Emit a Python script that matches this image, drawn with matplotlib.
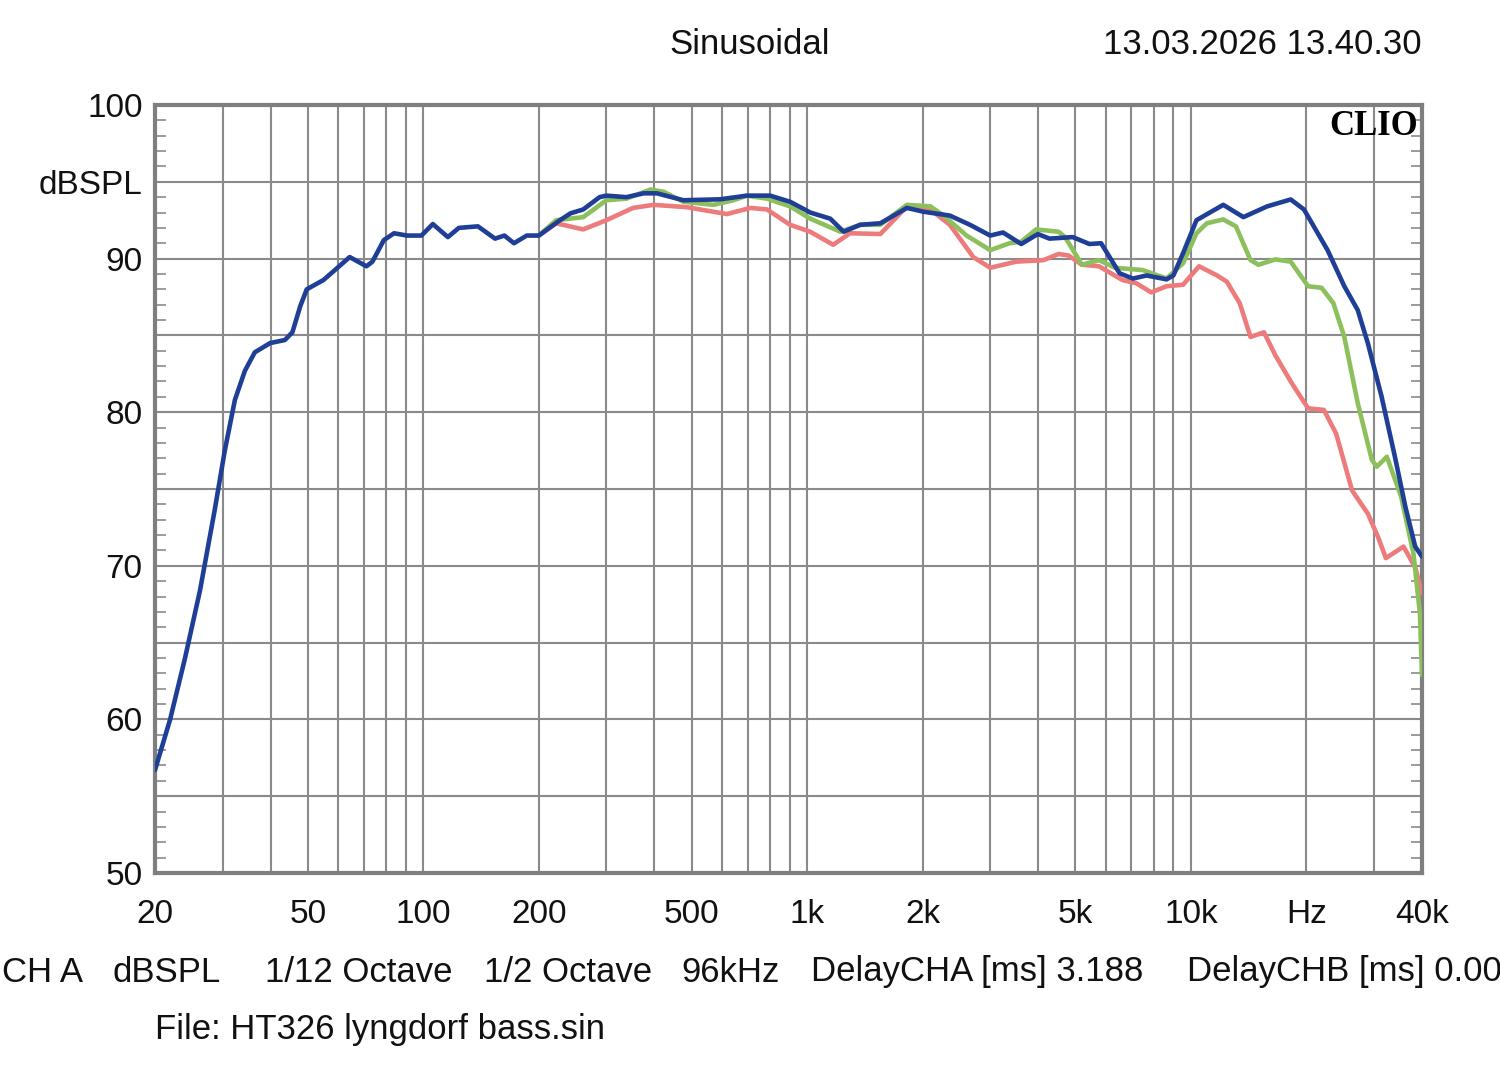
import numpy as np
import matplotlib
matplotlib.use("Agg")
import matplotlib.pyplot as plt
from matplotlib.ticker import FixedLocator, MultipleLocator

# ---------------- data ----------------
blue_f = [20, 21.9, 23.9, 26.2, 28.6, 30.4, 32.3, 34.3, 36.4, 39.9, 43.6, 45.6, 47.8, 49.7,
          54.9, 58.2, 64.3, 71.1, 73.7, 78.9, 83.9, 90.7, 98.9, 105.9, 115.9, 123.8, 138.8,
          153.8, 162.7, 172.3, 186, 200, 213, 227, 242, 261, 288, 300, 338, 375, 406, 476,
          594, 697, 801, 903, 1019, 1149, 1245, 1375, 1552, 1820, 2012, 2355, 2657, 3000,
          3239, 3614, 3992, 4281, 4920, 5440, 5834, 6520, 7060, 7660, 8640, 9000, 9540,
          10340, 12140, 13700, 15800, 18200, 19700, 22700, 25100, 27200, 28900, 31400,
          34000, 36200, 38400, 40000]
blue_db = [56.7, 60.0, 63.9, 68.4, 73.6, 77.5, 80.8, 82.7, 83.9, 84.5, 84.7, 85.2, 86.9, 88.0,
           88.6, 89.15, 90.1, 89.5, 89.8, 91.2, 91.65, 91.5, 91.5, 92.25, 91.4, 92.0, 92.1,
           91.3, 91.5, 91.0, 91.5, 91.5, 92.0, 92.5, 92.95, 93.2, 94.0, 94.1, 94.0, 94.25,
           94.25, 93.8, 93.86, 94.1, 94.1, 93.7, 93.0, 92.6, 91.75, 92.2, 92.3, 93.3, 93.05,
           92.8, 92.2, 91.5, 91.7, 90.95, 91.6, 91.3, 91.4, 90.95, 91.0, 89.04, 88.7, 88.9,
           88.65, 88.9, 90.35, 92.5, 93.5, 92.7, 93.4, 93.85, 93.2, 90.55, 88.2, 86.65,
           84.5, 81.0, 77.1, 73.85, 71.25, 70.6]

green_f = [200, 222, 261, 300, 338, 391, 423, 476, 570, 643, 697, 786, 903, 1019, 1221, 1375,
           1552, 1820, 2095, 2267, 2603, 3000, 3370, 3614, 3950, 4520, 4700, 5200, 5760,
           6350, 7500, 8640, 9540, 10340, 11000, 12140, 13100, 14300, 15000, 16600, 18200,
           20200, 21900, 23500, 25100, 27200, 29600, 30500, 32400, 35300, 38000, 39500, 40000]
green_db = [91.5, 92.5, 92.7, 93.8, 93.9, 94.5, 94.35, 93.7, 93.5, 93.8, 94.1, 93.9, 93.4,
            92.6, 91.75, 92.2, 92.2, 93.5, 93.4, 92.8, 91.5, 90.55, 91.0, 91.1, 91.9, 91.75,
            91.4, 89.6, 89.9, 89.4, 89.25, 88.7, 89.7, 91.65, 92.3, 92.55, 92.1, 89.9, 89.6,
            89.95, 89.8, 88.2, 88.1, 87.1, 84.9, 80.6, 76.9, 76.45, 77.1, 74.5, 70.8, 66.9, 62.9]

red_f = [200, 222, 261, 300, 352, 398, 485, 618, 712, 786, 903, 1019, 1169, 1294, 1552, 1820,
         2095, 2355, 2710, 3000, 3500, 4130, 4520, 4800, 5200, 5760, 6640, 7200, 7880, 8640,
         9540, 10500, 11700, 12400, 13400, 14300, 15500, 16600, 18300, 20200, 22200, 23900,
         26300, 28900, 30700, 32200, 35800, 38400, 40000]
red_db = [91.5, 92.3, 91.9, 92.5, 93.3, 93.5, 93.35, 92.9, 93.3, 93.2, 92.2, 91.75, 90.9,
          91.65, 91.6, 93.4, 93.2, 92.2, 90.1, 89.4, 89.8, 89.9, 90.3, 90.2, 89.6, 89.5,
          88.6, 88.4, 87.8, 88.2, 88.3, 89.5, 88.9, 88.5, 87.1, 84.9, 85.2, 83.7, 81.9,
          80.25, 80.15, 78.6, 74.9, 73.4, 71.9, 70.5, 71.25, 69.9, 68.2]

grid_freqs = [20, 30, 40, 50, 60, 70, 80, 90, 100, 200, 300, 400, 500, 600, 700, 800, 900,
              1000, 2000, 3000, 4000, 5000, 6000, 7000, 8000, 9000, 10000, 20000, 30000, 40000]
x_label_freqs = [20, 50, 100, 200, 500, 1000, 2000, 5000, 10000, 20000, 40000]
x_labels = ["20", "50", "100", "200", "500", "1k", "2k", "5k", "10k", "Hz", "40k"]
y_grid = [50, 55, 60, 65, 70, 75, 80, 85, 90, 95, 100]
y_labels = ["50", "", "60", "", "70", "", "80", "", "90", "dBSPL", "100"]

title = "Sinusoidal"
stamp = "13.03.2026 13.40.30"
info_items = ["CH A", "dBSPL", "1/12 Octave", "1/2 Octave", "96kHz",
              "DelayCHA [ms] 3.188", "DelayCHB [ms] 0.00"]
file_text = "File: HT326 lyngdorf bass.sin"

# ---------------- style ----------------
plt.rcParams['font.family'] = ['Liberation Sans', 'DejaVu Sans']
W, H = 1500, 1074
fig = plt.figure(figsize=(W / 100, H / 100), dpi=100)
fig.patch.set_facecolor("white")
ax = fig.add_axes([155 / W, (H - 873) / H, 1267 / W, 768 / H])

gcol = "#8a8a8a"
kw = dict(lw=3.3, solid_capstyle="round", solid_joinstyle="round")
ax.plot(red_f, red_db, color="#ee7b7b", zorder=3, **kw)
ax.plot(green_f, green_db, color="#8cc05c", zorder=4, **kw)
ax.plot(blue_f, blue_db, color="#1f3f97", zorder=5, **kw)

ax.set_xscale("log")
ax.set_xlim(20, 40000)
ax.set_ylim(50, 100)

ax.set_xticks(grid_freqs)
ax.set_xticklabels([x_labels[x_label_freqs.index(f)] if f in x_label_freqs else "" for f in grid_freqs])
ax.xaxis.set_minor_locator(FixedLocator([]))
ax.set_yticks(y_grid)
ax.set_yticklabels(y_labels)
ax.yaxis.set_minor_locator(MultipleLocator(1))

ax.grid(True, which="major", color=gcol, lw=1.5, zorder=1)
ax.tick_params(axis="both", which="major", length=0, labelsize=24, labelcolor="#111111")
ax.tick_params(axis="y", which="major", pad=9)
ax.tick_params(axis="x", which="major", pad=19)
ax.tick_params(axis="y", which="minor", direction="in", length=8, width=1.2, color=gcol,
               left=True, right=True)
for sp in ax.spines.values():
    sp.set_color("#7f7f7f")
    sp.set_linewidth(3)

ax.text(0.997, 0.993, "CLIO", transform=ax.transAxes, ha="right", va="top",
        fontsize=25, fontweight="bold", family=["Liberation Serif", "DejaVu Serif"], zorder=6)

fig.text(750 / W, 1 - 45 / H, title, ha="center", va="center", fontsize=25, color="#111111")
fig.text(1422 / W, 1 - 45 / H, stamp, ha="right", va="center", fontsize=25, color="#111111")

info_x = [2, 113, 265, 484, 681, 811, 1187]
for xx, t in zip(info_x, info_items):
    fig.text(xx / W, 1 - 972 / H, t, ha="left", va="center", fontsize=25, color="#111111")
fig.text(155 / W, 1 - 1030 / H, file_text, ha="left", va="center", fontsize=25, color="#111111")

fig.savefig("out.png", dpi=100, facecolor="white")
